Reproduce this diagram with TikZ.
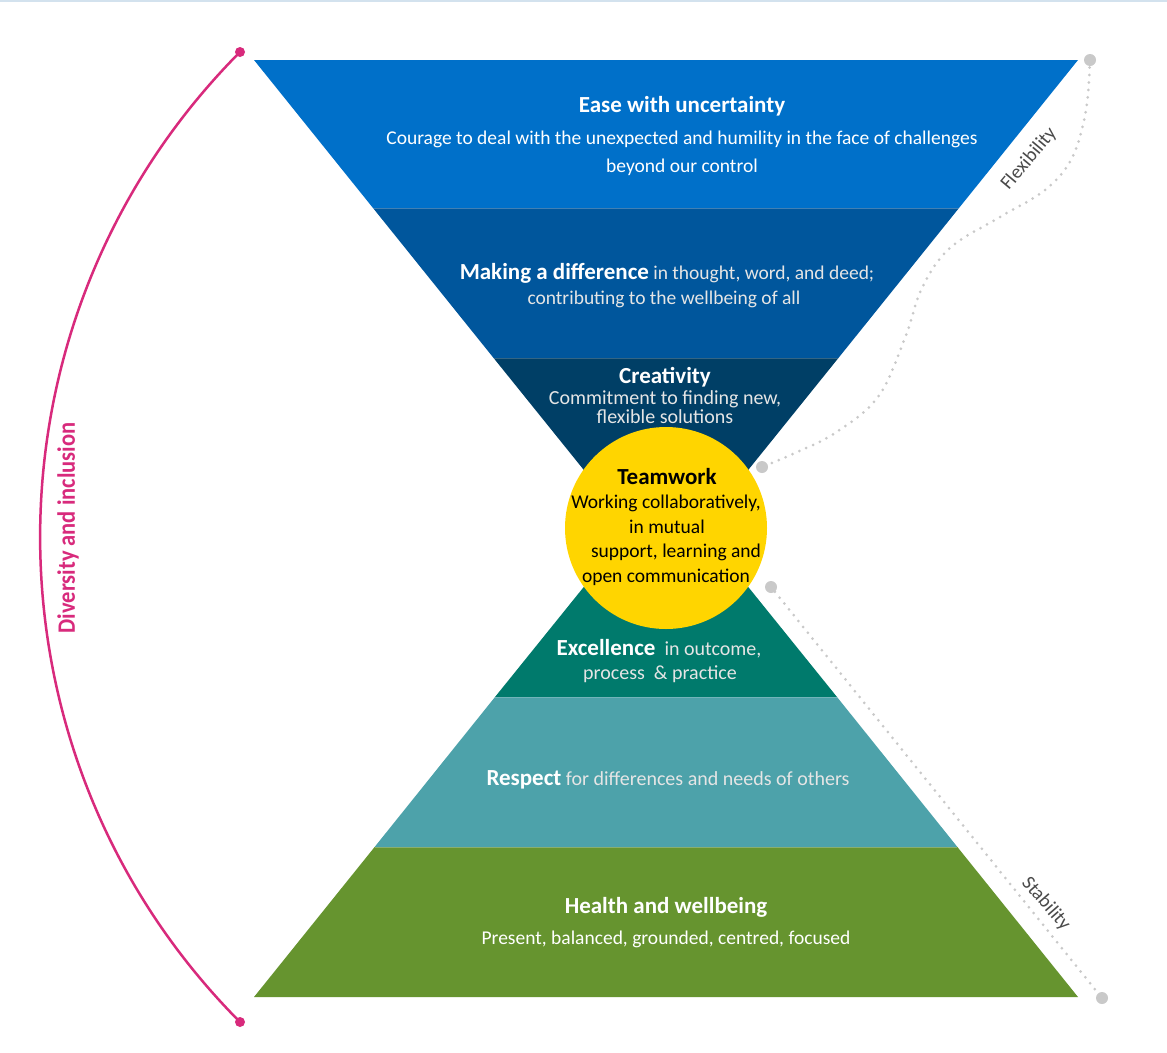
\documentclass[tikz,border=0pt]{standalone}
\usepackage{fontspec}
\setmainfont{Carlito}
\newfontfamily\condfont[FakeStretch=0.9]{Carlito}
\definecolor{bandA}{HTML}{0070C9}
\definecolor{bandB}{HTML}{00569C}
\definecolor{bandC}{HTML}{003F66}
\definecolor{teamY}{HTML}{FFD500}
\definecolor{bandD}{HTML}{007A6C}
\definecolor{bandE}{HTML}{4DA2AA}
\definecolor{bandF}{HTML}{66942F}
\definecolor{dotgray}{HTML}{C9C9C9}
\definecolor{pinkc}{HTML}{D82A7C}
\definecolor{labgray}{HTML}{4A4A4A}
\definecolor{topline}{HTML}{D3E2EE}
\begin{document}
\begin{tikzpicture}[x=1pt,y=-1pt,
  titlefont/.style={font=\bfseries\fontsize{23}{27}\selectfont},
  bodyfont/.style={font=\fontsize{19.5}{24}\selectfont},
  bodyfontb/.style={font=\fontsize{20}{24}\selectfont},
  wtext/.style={text=white, inner sep=0pt, align=center},
  ltext/.style={text=white!90!black, inner sep=0pt, align=center},
  ktext/.style={text=black, inner sep=0pt, align=center},
  dotline/.style={draw=dotgray, line width=3pt, line cap=round, dash pattern=on 0pt off 7.5pt},
  graydot/.style={circle, fill=dotgray, minimum size=12pt, inner sep=0pt},
  pinkdot/.style={circle, fill=pinkc, minimum size=10pt, inner sep=0pt},
  sideLabel/.style={text=labgray, font=\fontsize{19.5}{22}\selectfont, inner sep=0pt}
]
\useasboundingbox (0,0) rectangle (1167,1052);
\fill[white] (0,0) rectangle (1167,1052);
\draw[topline, line width=2pt] (0,1) -- (1167,1);

% top inverted pyramid
\fill[bandA] (254,60) -- (1078,60) -- (959,208) -- (373,208) -- cycle;
\fill[bandB] (373,208) -- (959,208) -- (838.4,358) -- (493.6,358) -- cycle;
\fill[bandC] (493.6,358) -- (838.4,358) -- (666,572) -- cycle;
\draw[white, opacity=0.25, line width=1pt] (373,208) -- (959,208);
\draw[white, opacity=0.2, line width=1pt] (493.6,358) -- (838.4,358);

% bottom pyramid
\fill[bandF] (254,997) -- (1078,997) -- (957.4,847) -- (374.6,847) -- cycle;
\fill[bandE] (374.6,847) -- (957.4,847) -- (837,697) -- (495,697) -- cycle;
\fill[bandD] (495,697) -- (837,697) -- (666,485) -- cycle;
\draw[white, opacity=0.25, line width=1pt] (374.6,847) -- (957.4,847);
\draw[white, opacity=0.25, line width=1pt] (495,697) -- (837,697);

% centre circle
\node[circle, fill=teamY, minimum size=202pt, inner sep=0pt] (team) at (666,528) {};

% texts - top
\node[wtext, titlefont] (easeT) at (682,106) {Ease with uncertainty};
\node[wtext, bodyfont] (easeB1) at (682,139) {Courage to deal with the unexpected and humility in the face of challenges};
\node[wtext, bodyfont] (easeB2) at (682,167) {beyond our control};

\node[ltext, bodyfont, anchor=base] (makeT) at (667,279) {\textcolor{white}{\bfseries\fontsize{23}{27}\selectfont Making a difference} in thought, word, and deed;};
\node[ltext, bodyfont] (makeB) at (664,299) {contributing to the wellbeing of all};

\node[wtext, titlefont] (creaT) at (665,377) {Creativity};
\node[ltext, font=\fontsize{20}{20}\selectfont] (creaB1) at (665,399) {Commitment to finding new,};
\node[ltext, font=\fontsize{20}{20}\selectfont] (creaB2) at (665,417) {flexible solutions};

% teamwork
\node[ktext, titlefont] (teamT) at (667,477) {Teamwork};
\node[ktext, bodyfont] (teamB1) at (666,503) {Working collaboratively,};
\node[ktext, bodyfont] (teamB2) at (667,527) {in mutual};
\node[ktext, bodyfont] (teamB3) at (676,552) {support, learning and};
\node[ktext, bodyfont] (teamB4) at (666,577) {open communication};

% bottom texts
\node[ltext, bodyfontb, anchor=base] (excT) at (659,655) {\textcolor{white}{\bfseries\fontsize{23}{27}\selectfont Excellence}\ \ in outcome,};
\node[ltext, bodyfontb] (excB) at (660,674) {process \ \& practice};

\node[ltext, bodyfontb, anchor=base] (resT) at (668,785) {\textcolor{white}{\bfseries\fontsize{23}{27}\selectfont Respect} for differences and needs of others};

\node[wtext, titlefont] (healT) at (666,907) {Health and wellbeing};
\node[wtext, bodyfont] (healB) at (666,939) {Present, balanced, grounded, centred, focused};

% flexibility
\coordinate (fA) at (1090,60);
\coordinate (fB) at (762,467);
\draw[dotline] plot[smooth, tension=0.6] coordinates {(fA) (1086,110) (1072,158) (1045,190) (1000,217) (950,248) (922,288) (905,338) (878,397) (835,433) (795,453) (fB)};
\node[graydot] (fAdot) at (fA) {};
\node[graydot] (fBdot) at (fB) {};
\node[sideLabel, rotate=50] (flexL) at (1029,159) {Flexibility};

% stability
\node[graydot] (sA) at (771,587) {};
\node[graydot] (sB) at (1102,998) {};
\draw[dotline] (sA) -- (sB);
\node[sideLabel, rotate=-49] (stabL) at (1046,904) {Stability};

% diversity arc
\node[pinkdot] (dA) at (240,52) {};
\node[pinkdot] (dB) at (240,1022) {};
\draw[pinkc, line width=2.5pt] (dA.center) .. controls (-26.5,320) and (-26.5,754) .. (dB.center);
\node[rotate=90, text=pinkc, inner sep=0pt, font=\condfont\bfseries\fontsize{25}{28}\selectfont] (divL) at (68,528) {Diversity and inclusion};
\end{tikzpicture}
\end{document}
